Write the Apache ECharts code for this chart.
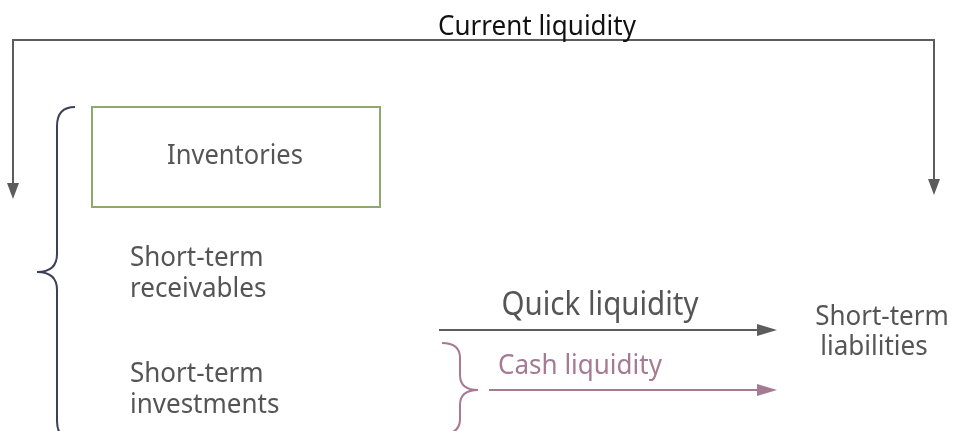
<!DOCTYPE html>
<html>
<head>
<meta charset="utf-8">
<script src="https://cdn.jsdelivr.net/npm/echarts@6/dist/echarts.min.js"></script>
<style>html,body{margin:0;padding:0;background:#fff}#c{width:953px;height:431px}</style>
</head>
<body>
<div id="c"></div>
<script>
// Diagram content
const assetItems = ['Inventories', 'Short-term\nreceivables', 'Short-term\ninvestments'];
const ratioLabels = ['Current liquidity', 'Quick liquidity', 'Cash liquidity'];
const liabilityLabel = 'Short-term\nliabilities';

const FONT = '"Noto Sans", sans-serif';
const GREY = '#5c5c5c';
const TEXT = '#555555';
const NAVY = '#3d4158';
const PINK = '#a57a93';
const GREEN = '#8fa86c';
const SY = 1.08; // glyph stretch to match the taller reference face

function line(x1, y1, x2, y2, color, w) {
  return { type: 'line', shape: { x1, y1, x2, y2 }, style: { stroke: color, lineWidth: w || 2 }, silent: true };
}
function curve(x1, y1, cx, cy, x2, y2, color, w) {
  return { type: 'bezierCurve', shape: { x1, y1, cpx1: cx, cpy1: cy, x2, y2 }, style: { stroke: color, lineWidth: w || 2, fill: null }, silent: true };
}
function head(points, color) {
  return { type: 'polygon', shape: { points }, style: { fill: color }, silent: true };
}
function text(t, x, y, size, color, align, lh) {
  return { type: 'text', x, y, scaleY: SY, style: { text: t, fontFamily: FONT, fontSize: size, fill: color, align: align || 'center', verticalAlign: 'middle', lineHeight: (lh || 31) / SY }, silent: true };
}

const els = [];
// Current liquidity bracket
els.push({ type: 'polyline', shape: { points: [[13, 184], [13, 40], [934, 40], [934, 180]] }, style: { stroke: GREY, lineWidth: 2, fill: null }, silent: true });
els.push(head([[7, 183], [19, 183], [13, 199]], GREY));
els.push(head([[928, 179], [940, 179], [934, 195]], GREY));
els.push(text(ratioLabels[0], 537, 27, 26, '#111111'));

// Inventories box
els.push({ type: 'rect', shape: { x: 92, y: 107, width: 288, height: 100 }, style: { stroke: GREEN, lineWidth: 2, fill: null }, silent: true });
els.push(text(assetItems[0], 235, 156, 25.5, TEXT));
els.push(text(assetItems[1], 130, 274, 26, TEXT, 'left'));
els.push(text(assetItems[2], 130, 390, 26, TEXT, 'left'));

// Left brace
els.push(curve(75, 107, 57, 107, 57, 126, NAVY));
els.push(line(57, 126, 57, 254, NAVY));
els.push(curve(57, 254, 57, 272, 37, 272, NAVY));
els.push(curve(37, 272, 57, 272, 57, 290, NAVY));
els.push(line(57, 290, 57, 421, NAVY));
els.push(curve(57, 421, 57, 440, 75, 440, NAVY));

// Quick liquidity arrow
els.push(line(439, 330, 762, 330, GREY));
els.push(head([[757, 324], [757, 336], [777, 330]], GREY));
els.push(text(ratioLabels[1], 600, 306, 29.5, TEXT));

// Cash liquidity brace + arrow
els.push(curve(442, 343, 460, 343, 460, 358, PINK));
els.push(line(460, 358, 460, 375, PINK));
els.push(curve(460, 375, 460, 390, 478, 390, PINK));
els.push(curve(478, 390, 460, 390, 460, 405, PINK));
els.push(line(460, 405, 460, 419, PINK));
els.push(curve(460, 419, 460, 434, 442, 434, PINK));
els.push(line(489, 390, 762, 390, PINK));
els.push(head([[757, 384], [757, 396], [777, 390]], PINK));
els.push(text(ratioLabels[2], 580, 366, 26, PINK));

// Short-term liabilities
const liabLines = liabilityLabel.split('\n');
els.push(text(liabLines[0], 882, 317, 26, TEXT));
els.push(text(liabLines[1], 874, 347, 26, TEXT));

const chart = echarts.init(document.getElementById('c'), null, { renderer: 'canvas' });
chart.setOption({ backgroundColor: '#ffffff', animation: false, graphic: { elements: els } });
</script>
</body>
</html>
